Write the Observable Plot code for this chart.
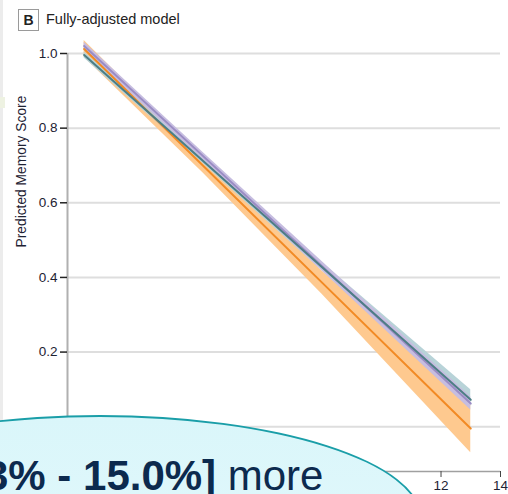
<!DOCTYPE html>
<html><head><meta charset="utf-8">
<script src="https://cdn.jsdelivr.net/npm/d3@7"></script>
<script src="https://cdn.jsdelivr.net/npm/@observablehq/plot@0.6"></script>
<style>
body{margin:0;background:#fff;width:508px;height:494px;overflow:hidden;position:relative;font-family:"Liberation Sans",Arial,sans-serif}
#chart{position:absolute;left:0;top:0}
.strip{position:absolute;left:0;top:0;width:3px;height:494px;background:#ececec}
.spot{position:absolute;left:0;top:97px;width:5px;height:11px;background:#eef2e2}
.badge{position:absolute;left:18px;top:9px;width:19px;height:20px;border:1.5px solid #9a9a9a;font-weight:bold;font-size:14px;line-height:20px;text-align:center;color:#222}
.title{position:absolute;left:46px;top:9px;font-size:14.5px;line-height:20px;color:#222}
.bubble{position:absolute;left:-222px;top:415px;width:644px;height:208px;border-radius:50%;background:linear-gradient(#daf6fa,#e4f9fc);border:2px solid #1a9ea8;box-sizing:border-box}
.btext{position:absolute;left:-15px;top:452px;font-size:42px;line-height:48px;color:#0c2a4e;white-space:nowrap}
</style></head><body>
<div id="chart"></div>
<div class="strip"></div><div class="spot"></div>
<div class="badge">B</div><div class="title">Fully-adjusted model</div>
<div class="bubble"></div>
<div class="btext"><b>3% - 15.0%]</b> more</div>
<script>
const xs = [0, 4, 8, 13];
const orangeFit = [1.012, 0.699, 0.386, -0.005];
const orangeLo  = [0.990, 0.680, 0.355, -0.070];
const orangeHi  = [1.035, 0.718, 0.417, 0.060];
const purpleFit = [1.020, 0.725, 0.430, 0.062];
const purpleLo  = [1.008, 0.715, 0.418, 0.045];
const purpleHi  = [1.030, 0.735, 0.443, 0.080];
const tealFit   = [0.996, 0.712, 0.427, 0.072];
const tealLo    = [0.988, 0.705, 0.418, 0.055];
const tealHi    = [1.004, 0.720, 0.440, 0.099];
const gridTicks = [0, 0.2, 0.4, 0.6, 0.8, 1.0];
const yTicks = [0.2, 0.4, 0.6, 0.8, 1.0];
const xTicks = [10, 12, 14];
const yLabel = "Predicted Memory Score";

const rows = (fit, lo, hi) => xs.map((x, i) => ({x, fit: fit[i], lo: lo[i], hi: hi[i]}));
const orange = rows(orangeFit, orangeLo, orangeHi);
const purple = rows(purpleFit, purpleLo, purpleHi);
const teal = rows(tealFit, tealLo, tealHi);

const chart = Plot.plot({
  width: 508, height: 494,
  marginLeft: 67, marginRight: 8, marginTop: 53, marginBottom: 23,
  style: {fontFamily: "'Liberation Sans', Arial, sans-serif", fontSize: "13.5px", color: "#1e2233", background: "transparent"},
  x: {domain: [-0.56, 14]},
  y: {domain: [-0.12, 1.0]},
  marks: [
    Plot.ruleY(gridTicks, {stroke: "#dedede", strokeWidth: 2}),
    Plot.ruleX([-0.56], {stroke: "#b0b0b0", strokeWidth: 2}),
    Plot.ruleY([-0.12], {stroke: "#a0a0a0", strokeWidth: 1.5}),
    Plot.areaY(orange, {x: "x", y1: "lo", y2: "hi", fill: "#fec98f", fillOpacity: 1}),
    Plot.areaY(teal, {x: "x", y1: "lo", y2: "hi", fill: "#b8d3d8", fillOpacity: 1}),
    Plot.areaY(purple, {x: "x", y1: "lo", y2: "hi", fill: "#c6bde0", fillOpacity: 1}),
    Plot.line(orange, {x: "x", y: "fit", stroke: "#f28a24", strokeWidth: 2}),
    Plot.line(purple, {x: "x", y: "fit", stroke: "#9a8cc4", strokeWidth: 2}),
    Plot.line(teal, {x: "x", y: "fit", stroke: "#4d7e85", strokeWidth: 2}),
    Plot.axisY(yTicks, {tickFormat: d3.format(".1f"), tickSize: 7, tickPadding: 3, stroke: "#222", strokeWidth: 1.5, label: null}),
    Plot.axisX(xTicks, {tickSize: 6, tickPadding: 3, stroke: "#444", label: null}),
    Plot.text([yLabel], {text: d => d, frameAnchor: "left", dx: -46, dy: -15, rotate: -90, fontSize: "13.8px", fill: "#1e2233"})
  ]
});
document.getElementById("chart").appendChild(chart);
</script>
</body></html>
